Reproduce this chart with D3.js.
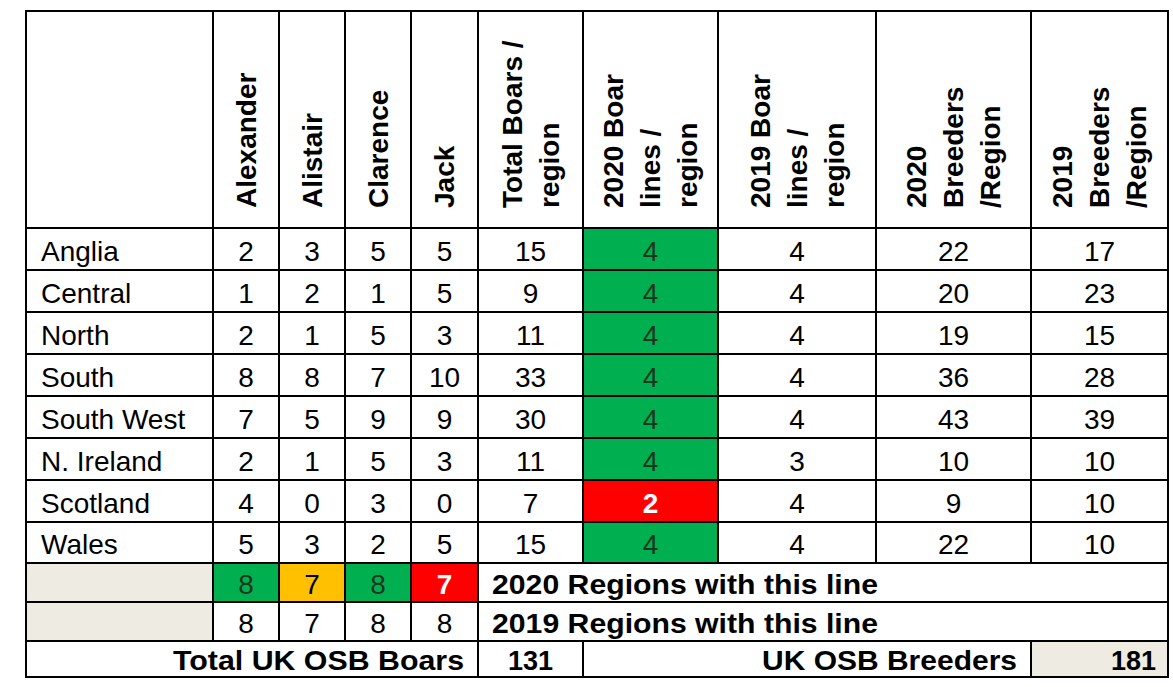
<!DOCTYPE html><html><head><meta charset="utf-8"><script src="https://cdn.jsdelivr.net/npm/d3@7"></script>
<style>body{margin:0;background:#fff}text{font-family:"Liberation Sans",Arial,sans-serif}</style></head><body>
<svg id="c" width="1173" height="687"></svg>
<script>
const headers=[[""],["Alexander"],["Alistair"],["Clarence"],["Jack"],["Total Boars /","region"],["2020 Boar","lines /","region"],["2019 Boar","lines /","region"],["2020","Breeders","/Region"],["2019","Breeders","/Region"]];
const regions=["Anglia","Central","North","South","South West","N. Ireland","Scotland","Wales"];
const alexander=[2,1,2,8,7,2,4,5];
const alistair=[3,2,1,8,5,1,0,3];
const clarence=[5,1,5,7,9,5,3,2];
const jack=[5,5,3,10,9,3,0,5];
const totalBoars=[15,9,11,33,30,11,7,15];
const lines2020=[4,4,4,4,4,4,2,4];
const lines2019=[4,4,4,4,4,3,4,4];
const breeders2020=[22,20,19,36,43,10,9,22];
const breeders2019=[17,23,15,28,39,10,10,10];
const regions2020=[8,7,8,7];
const regions2019=[8,7,8,8];
const totalUKBoars=131, ukBreeders=181;

const colEdges=[26,213,279,345,411,478,583,718,876,1031,1168];
const rowEdges=[11,228,270,312,354,396,438,480,522,563,602,641,677];
const svg=d3.select("#c");
const X=i=>colEdges[i], Y=i=>rowEdges[i];
const GREEN="#00b050",RED="#ff0000",ORANGE="#ffc000",GRAY="#eeebe3";
function cell(c0,c1,r0,r1,fill){svg.append("rect").attr("x",X(c0)).attr("y",Y(r0)).attr("width",X(c1)-X(c0)).attr("height",Y(r1)-Y(r0)).attr("fill",fill||"#fff").attr("stroke","#000").attr("stroke-width",2);}
function txt(x,y,s,o={}){const t=svg.append("text").attr("x",x).attr("y",y).attr("text-anchor",o.a||"middle").attr("dominant-baseline","central").attr("font-size",o.fs||28).attr("font-weight",o.w||"normal").attr("fill",o.f||"#000").text(s);
  if(o.len)t.attr("textLength",o.len).attr("lengthAdjust","spacingAndGlyphs");}
headers.forEach((h,i)=>{cell(i,i+1,0,1);
  const cx=(X(i)+X(i+1))/2, n=h.length, sp=37;
  h.forEach((l,j)=>{const x=cx+(j-(n-1)/2)*sp;
    svg.append("text").attr("transform",`translate(${x},208) rotate(-90)`).attr("dominant-baseline","central").attr("font-size",28).attr("font-weight","bold").text(l);});
});
const cols=[alexander,alistair,clarence,jack,totalBoars,lines2020,lines2019,breeders2020,breeders2019];
regions.forEach((r,ri)=>{const r0=ri+1, cy=(Y(r0)+Y(r0+1))/2+2;
  cell(0,1,r0,r0+1); txt(X(0)+15,cy,r,{a:"start"});
  cols.forEach((arr,ci)=>{const c=ci+1;let fill="#fff",f="#000",w="normal";
    if(c===6){if(arr[ri]<4){fill=RED;f="#fff";w="bold";}else{fill=GREEN;f="#17381c";}}
    cell(c,c+1,r0,r0+1,fill);txt((X(c)+X(c+1))/2,cy,arr[ri],{f,w});});
});
[[regions2020,"2020 Regions with this line",9],[regions2019,"2019 Regions with this line",10]].forEach(([arr,label,r0],k)=>{
  const cy=(Y(r0)+Y(r0+1))/2+2;
  cell(0,1,r0,r0+1,GRAY);
  arr.forEach((v,i)=>{const c=i+1;let fill="#fff",f="#000",w="normal";
    if(k===0){if(v===8){fill=GREEN;f="#17381c";}else if(i===1){fill=ORANGE;}else{fill=RED;f="#fff";w="bold";}}
    cell(c,c+1,r0,r0+1,fill);txt((X(c)+X(c+1))/2,cy,v,{f,w});});
  cell(5,10,r0,r0+1);txt(X(5)+14,cy,label,{a:"start",w:"bold",fs:27,len:386});
});
const cy=(Y(11)+Y(12))/2+2;
cell(0,5,11,12);txt(X(5)-14,cy,"Total UK OSB Boars",{a:"end",w:"bold",fs:27,len:291});
cell(5,6,11,12);txt((X(5)+X(6))/2,cy,totalUKBoars,{w:"bold",fs:27});
cell(6,9,11,12);txt(X(9)-14,cy,"UK OSB Breeders",{a:"end",w:"bold",fs:27,len:255});
cell(9,10,11,12,GRAY);txt(X(10)-12,cy,ukBreeders,{a:"end",w:"bold",fs:27});
</script></body></html>
